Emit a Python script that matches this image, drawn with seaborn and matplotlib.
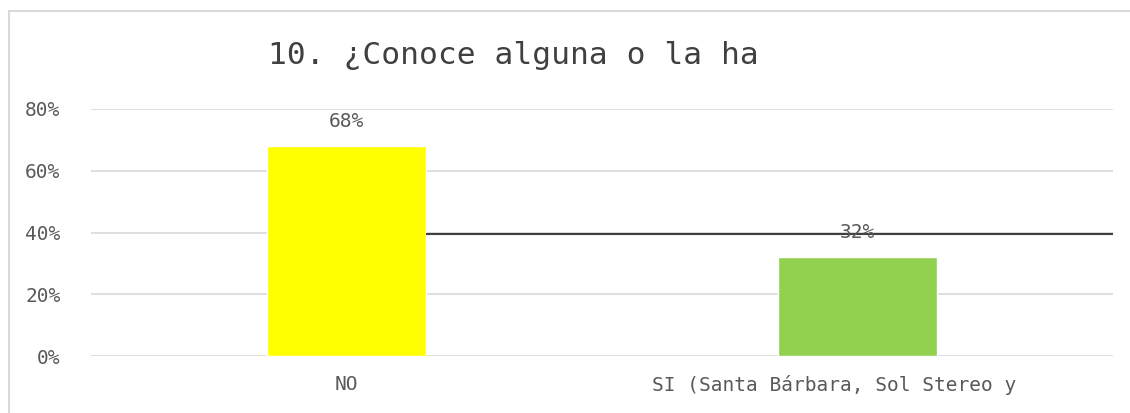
import matplotlib
matplotlib.use("Agg")
import matplotlib.pyplot as plt
from matplotlib import font_manager
from matplotlib.patches import Rectangle
import pandas as pd
import seaborn as sns

# chart data
categories = ["NO", "SI (Santa Bárbara, Sol Stereo y    "]
values = [0.68, 0.32]
bar_colors = ["#FFFF00", "#92D050"]
value_labels = ["68%", "32%"]
y_ticks = [0, 0.2, 0.4, 0.6, 0.8]
y_tick_labels = ["0%", "20%", "40%", "60%", "80%"]
title = "10. ¿Conoce alguna o la ha"
ref_line_value = 0.395  # stray dark line across the plot

df = pd.DataFrame({"cat": categories, "val": values})

sns.set_theme(style="white")
available = {f.name for f in font_manager.fontManager.ttflist}
fams = [f for f in ["Noto Sans Mono CJK JP", "DejaVu Sans Mono", "Noto Sans CJK JP"] if f in available]
plt.rcParams["font.family"] = fams or ["DejaVu Sans"]

text_color = "#595959"
grid_color = "#d9d9d9"

fig = plt.figure(figsize=(11.3, 4.13), dpi=100)
ax = fig.add_axes([91 / 1130, 1 - 356 / 413, 1022 / 1130, 247 / 413])

sns.barplot(data=df, x="cat", y="val", hue="cat", palette=bar_colors,
            saturation=1, width=0.31, legend=False, ax=ax, zorder=3)

ax.set_ylim(0, 0.8)
ax.set_xlim(-0.5, 1.5)
ax.set_yticks(y_ticks)
ax.set_yticklabels(y_tick_labels, fontsize=14, color=text_color)
ax.tick_params(axis="x", labelsize=14, labelcolor=text_color, length=0, pad=14)
ax.tick_params(axis="y", length=0, pad=22)
ax.set_xlabel("")
ax.set_ylabel("")
for s in ax.spines.values():
    s.set_visible(False)
for t in y_ticks:
    ax.axhline(t, color=grid_color, lw=1.2, zorder=1)

# data labels
for i, (v, lab) in enumerate(zip(values, value_labels)):
    ax.annotate(lab, (i, v), xytext=(0, 11), textcoords="offset points",
                ha="center", va="bottom", fontsize=14, color=text_color, zorder=5)

# dark line from edge of first bar to right side
ax.hlines(ref_line_value, 0.155, 1.5, color="#404040", lw=1.5, zorder=4)

fig.text(268 / 1130, 1 - 55 / 413, title, fontsize=22.5, color="#404040",
         ha="left", va="center")

# chart border (partially out of frame)
fig.patches.append(Rectangle((8.5 / 1130, -0.1), 1.2, 1 - 10.5 / 413 + 0.1,
                             transform=fig.transFigure, fill=False,
                             edgecolor=grid_color, lw=1.5))

fig.savefig("out.png", dpi=100)
